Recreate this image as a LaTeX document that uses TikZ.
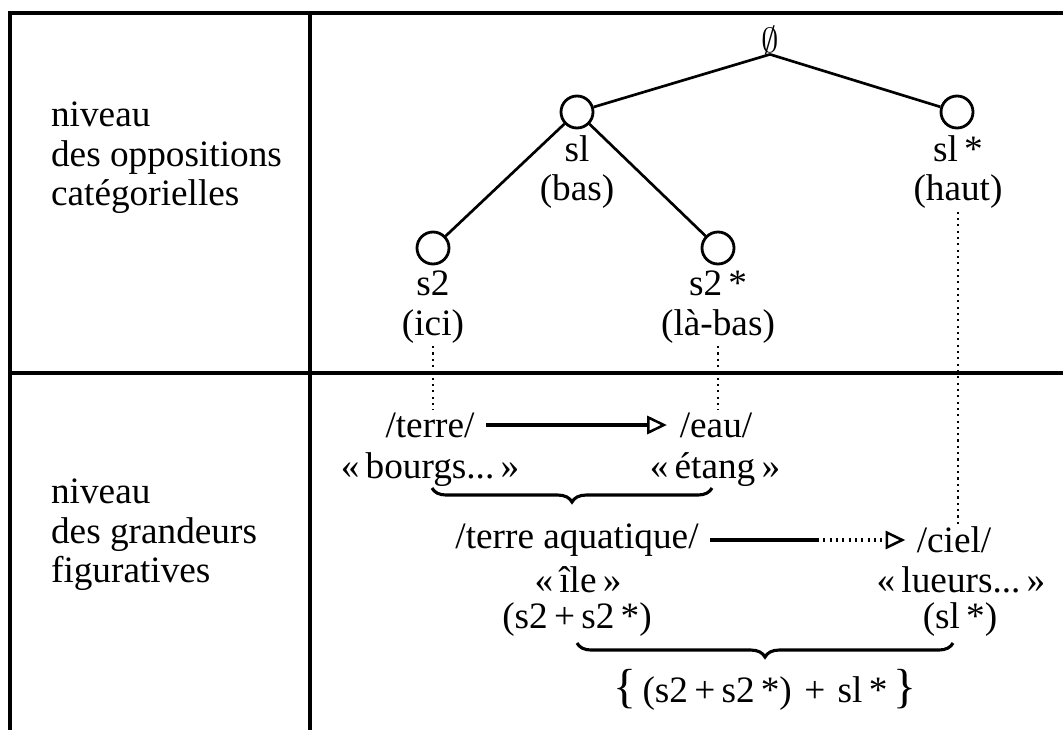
\documentclass[tikz,border=0pt]{standalone}
\usepackage{fontspec}
\setmainfont{Liberation Serif}
\usetikzlibrary{arrows.meta,decorations.pathreplacing}
\tikzset{
  txt/.style={font=\fontsize{26.5}{28}\selectfont, inner sep=2pt, align=center},
  knot/.style={circle, draw, line width=2pt, minimum size=0.8cm, inner sep=0pt},
  frame/.style={line width=3.4pt},
  edge/.style={line width=1.9pt},
  guide/.style={line width=1.5pt, dash pattern=on 1.5pt off 3pt},
  flow/.style={line width=2.2pt, -{Triangle[open,length=14pt,width=13pt,line width=1.8pt]}},
  curly/.style={line width=2.2pt, decorate, decoration={brace, mirror, amplitude=10pt}}
}
\begin{document}
\begin{tikzpicture}[x=0.025cm,y=-0.025cm]
\useasboundingbox (0,0) rectangle (1063,730);
% cadre
\draw[frame] (8,13) -- (1063,13);
\draw[frame] (10,12) -- (10,730);
\draw[frame] (310,13) -- (310,730);
\draw[frame] (10,373) -- (1063,373);
% niveaux
\node[txt, align=left, anchor=west] (nivA) at (48,158) {niveau\\des oppositions\\catégorielles};
\node[txt, align=left, anchor=west] (nivB) at (48,535) {niveau\\des grandeurs\\figuratives};
% arbre
\node[txt, inner sep=0pt, font=\fontsize{32}{32}\selectfont] (root) at (770,40) {$\emptyset$};
\node[knot] (sl) at (577,112) {};
\node[knot] (slst) at (957,112) {};
\node[knot] (s2) at (433,248) {};
\node[knot] (s2st) at (718,248) {};
\draw[edge] (root.south) -- (sl);
\draw[edge] (root.south) -- (slst);
\draw[edge] (sl) -- (s2);
\draw[edge] (sl) -- (s2st);
\node[txt] (bas) at (577,172) {sl\\(bas)};
\node[txt] (haut) at (958,172) {sl\,*\\(haut)};
\node[txt] (ici) at (433,307) {s2\\(ici)};
\node[txt] (labas) at (718,307) {s2\,*\\(là-bas)};
% grandeurs
\node[txt] (terre) at (430,425) {/terre/};
\node[txt] (bourgs) at (430,470) {«\,bourgs...\,»};
\node[txt] (eau) at (716,425) {/eau/};
\node[txt] (etang) at (715,470) {«\,étang\,»};
\draw[flow, shorten <=6pt, shorten >=7pt] (terre) -- (eau);
\draw[guide] (ici.south) -- (ici.south |- terre.north);
\draw[guide] (labas.south) -- (labas.south |- eau.north);
\coordinate (bA) at (432,488);
\coordinate (bB) at (712,488);
\draw[curly] (bA) -- (bB);
\node[txt] (aq) at (577,540) {/terre aquatique/};
\node[txt] (ile) at (578,580) {«\,île\,»};
\node[txt] (somme) at (577,620) {(s2\,+\,s2\,*)};
\node[txt] (ciel) at (954,540) {/ciel/};
\node[txt] (lueurs) at (961,580) {«\,lueurs...\,»};
\node[txt] (slb) at (960,620) {(sl\,*)};
\coordinate (relais) at (817,540);
\draw[line width=2.2pt, shorten <=6pt] (aq) -- (relais);
\draw[flow, dash pattern=on 1.5pt off 3pt, shorten >=6pt] (relais) -- (ciel);
\draw[guide] (haut.south) -- (haut.south |- ciel.north);
\coordinate (bC) at (577,643);
\coordinate (bD) at (953,643);
\draw[curly] (bC) -- (bD);
\node[txt] (total) at (765,690) {{\fontsize{34}{34}\selectfont\{}\,(s2\,+\,s2\,*)\,\,+\,\,sl\,*\,{\fontsize{34}{34}\selectfont\}}};
\end{tikzpicture}
\end{document}
